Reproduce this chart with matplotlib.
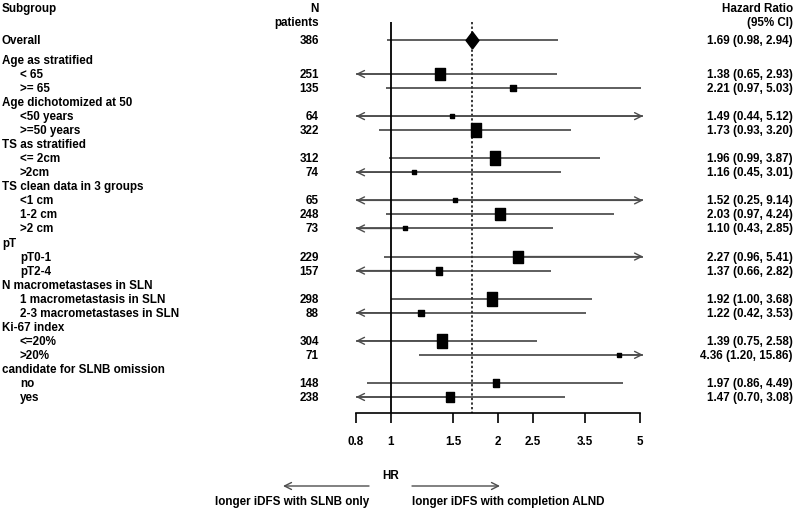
import numpy as np
import matplotlib
matplotlib.use('Agg')
import matplotlib.pyplot as plt
from matplotlib import transforms
from matplotlib.ticker import NullLocator

nan = np.nan

# subgroup labels, top to bottom
labels = ['Overall',
          'Age as stratified', '< 65', '>= 65',
          'Age dichotomized at 50', '<50 years', '>=50 years',
          'TS as stratified', '<= 2cm', '>2cm',
          'TS clean data in 3 groups', '<1 cm', '1-2 cm', '>2 cm',
          'pT', 'pT0-1', 'pT2-4',
          'N macrometastases in SLN', '1 macrometastasis in SLN', '2-3 macrometastases in SLN',
          'Ki-67 index', '<=20%', '>20%',
          'candidate for SLNB omission', 'no', 'yes']

n_patients = [386,
              None, 251, 135,
              None, 64, 322,
              None, 312, 74,
              None, 65, 248, 73,
              None, 229, 157,
              None, 298, 88,
              None, 304, 71,
              None, 148, 238]

hr = [1.69,
      nan, 1.38, 2.21,
      nan, 1.49, 1.73,
      nan, 1.96, 1.16,
      nan, 1.52, 2.03, 1.10,
      nan, 2.27, 1.37,
      nan, 1.92, 1.22,
      nan, 1.39, 4.36,
      nan, 1.97, 1.47]

ci_low = [0.98,
          nan, 0.65, 0.97,
          nan, 0.44, 0.93,
          nan, 0.99, 0.45,
          nan, 0.25, 0.97, 0.43,
          nan, 0.96, 0.66,
          nan, 1.00, 0.42,
          nan, 0.75, 1.20,
          nan, 0.86, 0.70]

ci_high = [2.94,
           nan, 2.93, 5.03,
           nan, 5.12, 3.20,
           nan, 3.87, 3.01,
           nan, 9.14, 4.24, 2.85,
           nan, 5.41, 2.82,
           nan, 3.68, 3.53,
           nan, 2.58, 15.86,
           nan, 4.49, 3.08]

# relative box weight (box height in px)
box_weight = [None,
              None, 12, 7,
              None, 5, 15,
              None, 15, 5,
              None, 5, 12, 5,
              None, 12, 8,
              None, 14, 6,
              None, 14, 5,
              None, 8, 11]

x_ticks = [0.8, 1, 1.5, 2, 2.5, 3.5, 5]
x_min, x_max, x_clip = 0.8, 5.0, 5.1

plt.rcParams['font.family'] = ['Liberation Sans', 'DejaVu Sans']
plt.rcParams['font.weight'] = 'bold'
fs = 8.4

fig = plt.figure(figsize=(8, 5.1), dpi=100)
ax_left = 356 / 800
ax_width = 284 * np.log(x_clip / x_min) / np.log(x_max / x_min) / 800
ax = fig.add_axes([ax_left, 96 / 510, ax_width, 414 / 510])
ax.set_xscale('log')
ax.set_xlim(x_min, x_clip)
ax.set_ylim(26.14, -3.34)

# row positions: a small gap below Overall
row_y = np.arange(len(labels), dtype=float)
row_y[0] = -0.42

line_col = '#333333'
arrow_col = '#4d4d4d'
diamond = [(0, -0.5), (0.38, 0), (0, 0.5), (-0.38, 0), (0, -0.5)]


def box_marker(h):
    # boxes are a bit taller than wide, small ones are square
    half_w = 0.5 * (0.6 * h + 2) / h
    return [(-half_w, -0.5), (half_w, -0.5), (half_w, 0.5), (-half_w, 0.5), (-half_w, -0.5)]


arr_style = '->,head_length=0.5,head_width=0.25'

for i, y in enumerate(row_y):
    if np.isnan(hr[i]):
        continue
    lo, hi, est = ci_low[i], ci_high[i], hr[i]
    ax.hlines(y, max(lo, x_min), min(hi, x_clip), color=line_col, lw=1.1, zorder=2)
    if lo < x_min:
        ax.annotate('', xy=(x_min, y), xytext=(est, y),
                    arrowprops=dict(arrowstyle=arr_style, color=arrow_col, lw=1.0,
                                    shrinkA=0, shrinkB=0))
    if hi > x_clip:
        ax.annotate('', xy=(x_clip, y), xytext=(est, y),
                    arrowprops=dict(arrowstyle=arr_style, color=arrow_col, lw=1.0,
                                    shrinkA=0, shrinkB=0))
    if i == 0:
        ax.plot(est, y, marker=diamond, ms=17 / 1.389, color='black', zorder=4)
    else:
        h = box_weight[i]
        ax.plot(est, y, marker=box_marker(h), ms=h / 1.389, color='black', zorder=4)

# reference lines
ax.vlines(1, -1.71, 26.14, color='black', lw=1.3, zorder=3)
ax.vlines(hr[0], -1.71, 26.14, color='black', lw=1.1, linestyles=(0, (1.5, 1.5)), zorder=1)

for s in ['top', 'right', 'left']:
    ax.spines[s].set_visible(False)
ax.spines['bottom'].set_bounds(x_min, x_max)
ax.spines['bottom'].set_linewidth(1.2)
ax.set_yticks([])
ax.set_xticks(x_ticks)
ax.set_xticklabels([f'{t:g}' for t in x_ticks], fontsize=fs, fontweight='bold')
ax.xaxis.set_minor_locator(NullLocator())
ax.tick_params(axis='x', direction='out', length=7, width=1.2, pad=9)

# text columns
trans = transforms.blended_transform_factory(fig.transFigure, ax.transData)
for i, y in enumerate(row_y):
    is_sub = (i > 0) and not np.isnan(hr[i])
    ax.text((20 if is_sub else 2) / 800, y, labels[i], transform=trans,
            ha='left', va='center', fontsize=fs, fontweight='bold')
    if n_patients[i] is not None:
        ax.text(319 / 800, y, str(n_patients[i]), transform=trans,
                ha='right', va='center', fontsize=fs, fontweight='bold')
    if not np.isnan(hr[i]):
        ax.text(793 / 800, y, f'{hr[i]:.2f} ({ci_low[i]:.2f}, {ci_high[i]:.2f})',
                transform=trans, ha='right', va='center', fontsize=fs, fontweight='bold')

ax.text(2 / 800, -2.70, 'Subgroup', transform=trans, ha='left', va='center', fontsize=fs)
ax.text(319 / 800, -2.70, 'N', transform=trans, ha='right', va='center', fontsize=fs)
ax.text(319 / 800, -1.71, 'patients', transform=trans, ha='right', va='center', fontsize=fs)
ax.text(793 / 800, -2.70, 'Hazard Ratio', transform=trans, ha='right', va='center', fontsize=fs)
ax.text(793 / 800, -1.71, '(95% CI)', transform=trans, ha='right', va='center', fontsize=fs)

# bottom annotation
fig.text(391 / 800, 1 - 476 / 510, 'HR', ha='center', va='center', fontsize=fs)
fig.text(369 / 800, 1 - 502 / 510, 'longer iDFS with SLNB only', ha='right', va='center', fontsize=fs)
fig.text(412 / 800, 1 - 502 / 510, 'longer iDFS with completion ALND', ha='left', va='center', fontsize=fs)
arr = dict(arrowstyle=arr_style, color=arrow_col, lw=1.0, shrinkA=0, shrinkB=0)
fig.add_artist(plt.Annotation('', xy=(283 / 800, 1 - 487 / 510), xytext=(369 / 800, 1 - 487 / 510),
                              xycoords='figure fraction', arrowprops=arr))
fig.add_artist(plt.Annotation('', xy=(500 / 800, 1 - 487 / 510), xytext=(412 / 800, 1 - 487 / 510),
                              xycoords='figure fraction', arrowprops=arr))

fig.savefig('out.png', dpi=100)
